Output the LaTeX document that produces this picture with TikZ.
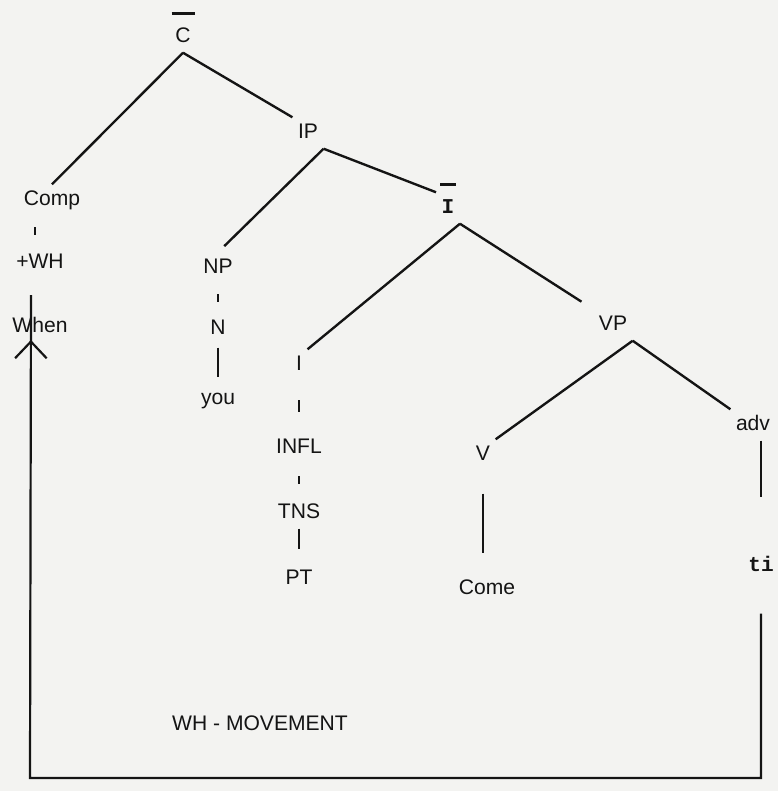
\documentclass[tikz,border=0pt]{standalone}
\usepackage{fontspec}
\setmainfont{Liberation Sans}
\newfontfamily\monofnt{Liberation Mono}
\usetikzlibrary{positioning,calc,arrows.meta,decorations.markings}
\definecolor{ink}{HTML}{141414}
\definecolor{paper}{HTML}{F3F3F1}

\begin{document}
\begin{tikzpicture}[x=0.02cm, y=-0.02cm,
  every node/.style={font=\fontsize{12}{14}\selectfont, text=ink, inner sep=3pt,
                     text height=9pt, text depth=2.5pt},
  overbar/.style={label={[inner sep=0pt, text height=1.3pt, text depth=0pt,
                          yshift=3.5pt]above:\rule{#1}{1.3pt}}},
  br/.style={draw=ink, line width=1.35pt},
  tick/.style={draw=ink, line width=1.35pt},
  move/.style={draw=ink, line width=1.25pt, postaction={decorate},
               decoration={markings, mark=at position -0.9cm with
                 {\arrow{Straight Barb[length=9.5pt, width=18pt, line width=1.25pt]}}}}
]
  \fill[paper] (0,0) rectangle (778,791);

  % tree nodes
  \node[overbar=0.46cm] (cbar) at (183,37) {C};
  \node (comp) at (52,200) {Comp};
  \node[below=0.62cm of comp, xshift=-0.24cm] (wh) {+WH};
  \node[below=0.66cm of wh] (when) {When};
  \node (ip) at (308,133) {IP};
  \node (np) at (218,268) {NP};
  \node[below=0.58cm of np] (n) {N};
  \node[below=0.77cm of n] (you) {you};
  \node[overbar=0.32cm, font=\fontsize{12}{14}\monofnt\bfseries] (ibar) at (448,208) {I};
  \node (i) at (299,365) {I};
  \node[below=1.02cm of i] (infl) {INFL};
  \node[below=0.68cm of infl] (tns) {TNS};
  \node[below=0.68cm of tns] (pt) {PT};
  \node (vp) at (613,325) {VP};
  \node (v) at (483,455) {V};
  \node[below=2.04cm of v, xshift=0.08cm] (come) {Come};
  \node (adv) at (753,425) {adv};
  \node[below=2.18cm of adv, xshift=0.16cm, font=\fontsize{12}{14}\monofnt\bfseries] (ti) {ti};
  \node (mv) at (260,725) {WH - MOVEMENT};

  % branches
  \draw[br] (cbar.south) -- (comp.north);
  \draw[br] (cbar.south) -- (ip.north west);
  \draw[br, shorten >=5pt] (ip.south east) -- (np.north);
  \draw[br] (ip.south east) -- (ibar.north west);
  \draw[br] (ibar.south east) -- (i.north east);
  \draw[br, shorten >=8pt] (ibar.south east) -- (vp.north west);
  \draw[br] (vp.south east) -- (v.north east);
  \draw[br] (vp.south east) -- (adv.north west);

  % short ticks
  \draw[tick] ($(comp.south -| wh)!0.5!(wh.north)$) ++(-5,-4) -- ++(0,8);
  \draw[tick] ($(np.south)!0.5!(n.north)$) ++(0,-4) -- ++(0,8);
  \draw[tick] ($(i.south)!0.5!(infl.north)$) ++(0,-6) -- ++(0,12);
  \draw[tick] ($(infl.south)!0.5!(tns.north)$) ++(0,-4) -- ++(0,8);

  % stems
  \draw[br, shorten <=2pt, shorten >=3pt] (n) -- (you);
  \draw[br, shorten >=8pt] (tns) -- (pt);
  \draw[br, shorten <=13pt, shorten >=11pt] (v.south) -- (v.south |- come.north);
  \draw[br, shorten >=30pt] (ti.north |- adv.south) -- (ti.north);

  % movement
  \coordinate (bl) at (30,778);
  \coordinate (wtop) at (31,295);
  \draw[move, shorten <=18.5pt] (ti.south) -- (ti.south |- bl) -- (bl) -- (wtop);
\end{tikzpicture}
\end{document}
